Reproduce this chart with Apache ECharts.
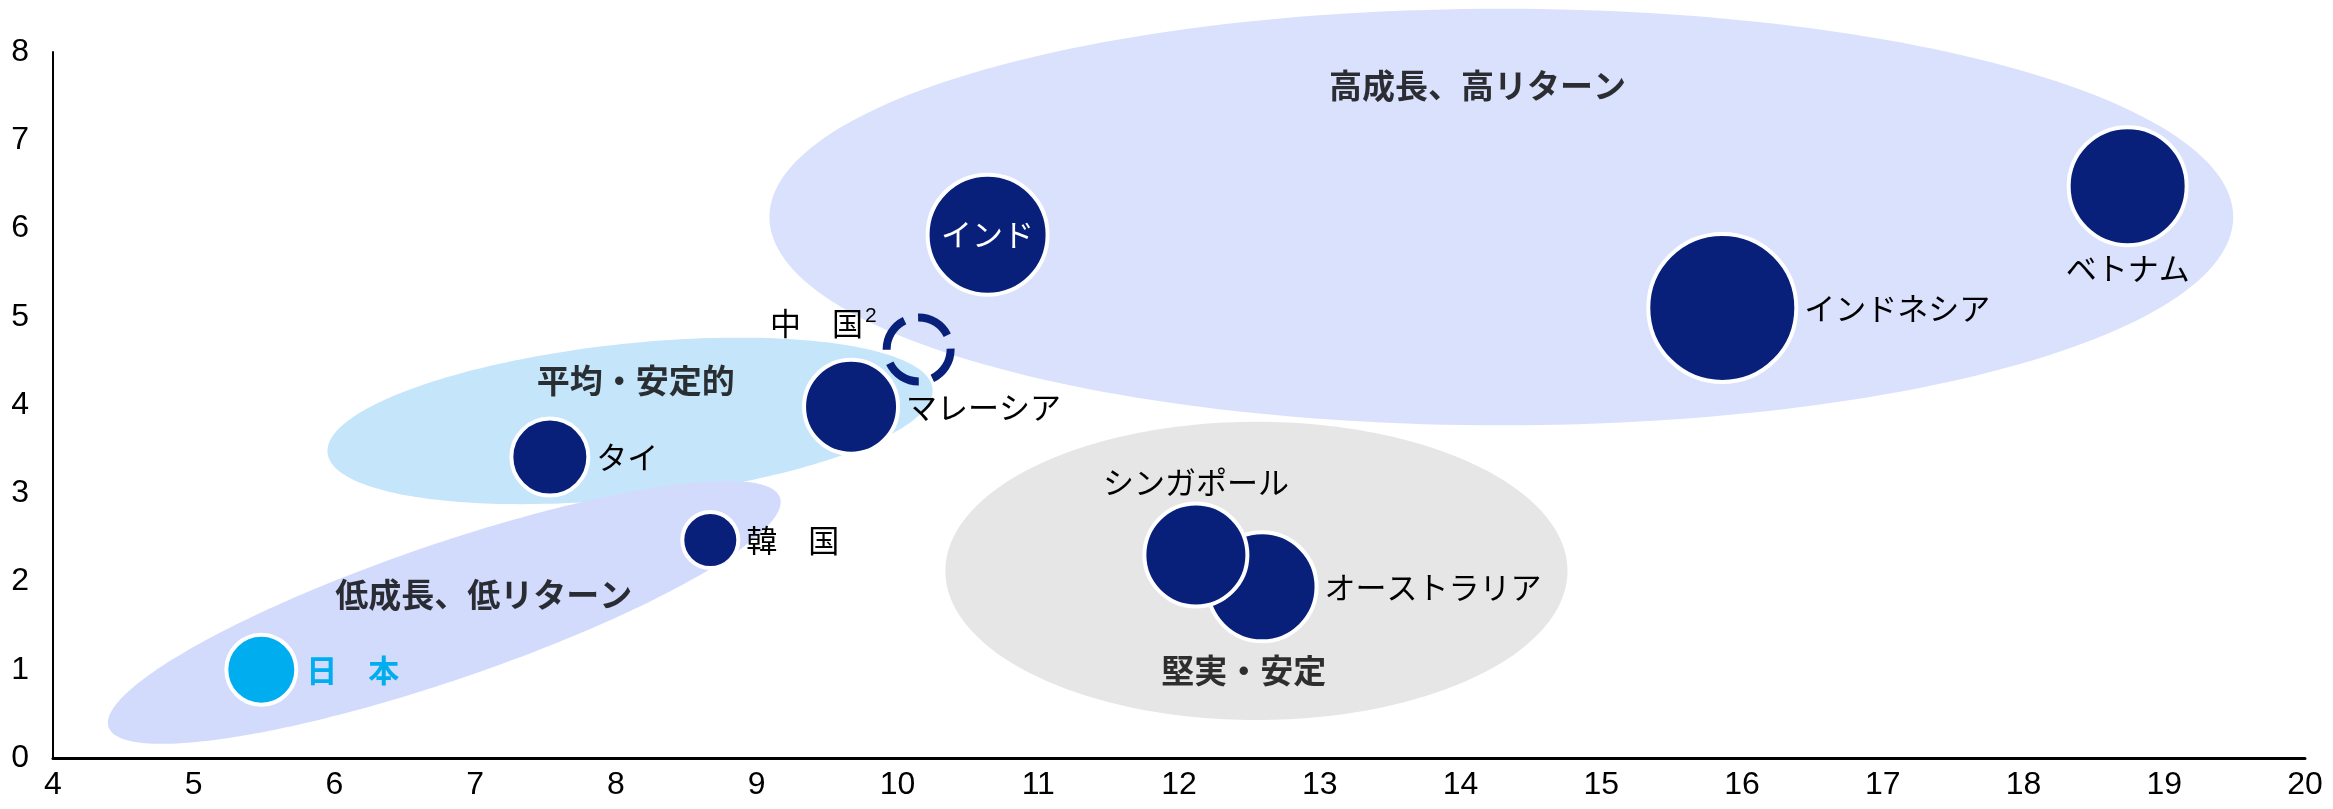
<!DOCTYPE html>
<html>
<head>
<meta charset="utf-8">
<script src="https://cdn.jsdelivr.net/npm/echarts@6/dist/echarts.min.js"></script>
<style>
  html, body { margin: 0; padding: 0; background: #ffffff; }
  #chart { width: 2333px; height: 809px; }
</style>
</head>
<body>
<div id="chart"></div>
<script>
// Country bubbles: growth (x), return (y), bubble diameter
const countryLabels = ['日　本', '韓　国', 'タイ', 'マレーシア', '中　国', 'インド', 'インドネシア', 'ベトナム', 'オーストラリア', 'シンガポール'];
const growth  = [5.48, 8.67, 7.53, 9.67, 10.15, 10.64, 15.86, 18.74, 12.59, 12.12];
const returns = [1.00, 2.47, 3.41, 3.98, 4.63, 5.93, 5.10, 6.48, 1.94, 2.30];
const bubbleSize = [70, 56, 77, 94, 64, 120, 148, 118, 109, 103];

// Group regions (ellipses in data units): centre, horizontal semi-diameter,
// vertical rise at the horizontal extreme, vertical conjugate semi-diameter
const regionNames   = ['高成長、高リターン', '平均・安定的', '低成長、低リターン', '堅実・安定'];
const regionCenterX = [14.29, 8.10, 6.78, 12.55];
const regionCenterY = [6.13, 3.82, 1.65, 2.12];
const regionSpanX   = [5.20, 2.15, 2.39, 2.21];
const regionTiltY   = [0.00, 0.34, 1.25, 0.00];
const regionSpanY   = [2.36, 0.88, 0.81, 1.69];
const regionLabelX  = [14.12, 8.14, 7.06, 12.46];
const regionLabelY  = [7.62, 4.28, 1.85, 0.99];

const xTicks = [4, 20, 1];
const yTicks = [0, 8, 1];

const regionColors = ['#dae1fc', '#c5e5fa', '#d3dbfc', '#e6e6e6'];
const NAVY = '#08207a';
const JAPAN = '#00aeef';
const FONT_JP = '"Noto Sans CJK JP", "Noto Sans", sans-serif';
const FONT_NUM = '"Liberation Sans", Arial, sans-serif';

const chart = echarts.init(document.getElementById('chart'), null, { renderer: 'canvas' });

const regionData = regionCenterX.map((x, i) => [x, regionCenterY[i], regionSpanX[i], regionTiltY[i], regionSpanY[i]]);

const labelBase = { show: true, color: '#000', fontSize: 31, fontFamily: FONT_JP, distance: 6 };

const bubbleData = countryLabels.map((name, i) => {
  const item = {
    name: name,
    value: [growth[i], returns[i]],
    itemStyle: { color: NAVY, borderColor: '#ffffff', borderWidth: 4, opacity: 1 },
    label: Object.assign({}, labelBase, { position: 'right', formatter: name })
  };
  if (name === '日　本') {
    item.itemStyle.color = JAPAN;
    item.label.color = JAPAN;
    item.label.fontWeight = 'bold';
    item.label.distance = 8;
  } else if (name === '中　国') {
    item.itemStyle = { color: 'rgba(0,0,0,0)', borderColor: NAVY, borderWidth: 8, borderType: [36, 14], opacity: 1 };
    item.label.position = 'left';
    item.label.offset = [0, -26];
    item.label.formatter = '中　国{sup|2}';
    item.label.rich = { sup: { fontSize: 21, fontFamily: FONT_NUM, verticalAlign: 'top', padding: [0, 0, 14, 2], color: '#000' } };
  } else if (name === 'インド') {
    item.label.position = 'inside';
    item.label.color = '#ffffff';
  } else if (name === 'ベトナム') {
    item.label.position = 'bottom';
    item.label.distance = 6;
  } else if (name === 'シンガポール') {
    item.label.position = 'top';
    item.label.distance = 4;
  }
  return item;
});

const option = {
  backgroundColor: '#ffffff',
  animation: false,
  grid: { left: 53, right: 28, top: 52, bottom: 51, containLabel: false },
  xAxis: {
    type: 'value', min: xTicks[0], max: xTicks[1], interval: xTicks[2],
    splitLine: { show: false },
    axisTick: { show: false },
    axisLine: { show: true, onZero: false, lineStyle: { color: '#000', width: 3 } },
    axisLabel: { color: '#000', fontSize: 32, fontFamily: FONT_NUM, margin: 11 }
  },
  yAxis: {
    type: 'value', min: yTicks[0], max: yTicks[1], interval: yTicks[2],
    splitLine: { show: false },
    axisTick: { show: false },
    axisLine: { show: true, onZero: false, lineStyle: { color: '#000', width: 2 } },
    axisLabel: { color: '#000', fontSize: 32, fontFamily: FONT_NUM, margin: 24 }
  },
  series: [
    {
      type: 'custom',
      z: 1,
      silent: true,
      clip: false,
      data: regionData,
      encode: { x: 0, y: 1 },
      renderItem: function (params, api) {
        const cx = api.value(0), cy = api.value(1);
        const ux = api.value(2), uy = api.value(3), vy = api.value(4);
        const pts = [];
        const n = 240;
        for (let k = 0; k < n; k++) {
          const t = (k / n) * Math.PI * 2;
          pts.push(api.coord([cx + ux * Math.cos(t), cy + uy * Math.cos(t) + vy * Math.sin(t)]));
        }
        return { type: 'polygon', shape: { points: pts }, style: { fill: regionColors[params.dataIndex] } };
      }
    },
    {
      type: 'scatter',
      z: 3,
      silent: true,
      symbol: 'circle',
      symbolSize: function (val, params) { return bubbleSize[params.dataIndex]; },
      itemStyle: { opacity: 1 },
      data: bubbleData
    },
    {
      type: 'scatter',
      z: 4,
      silent: true,
      symbolSize: 0,
      data: regionNames.map((name, i) => ({ name: name, value: [regionLabelX[i], regionLabelY[i]] })),
      label: {
        show: true, position: 'inside', formatter: '{b}',
        color: '#000', fontSize: 33, fontWeight: 'bold', fontFamily: FONT_JP
      }
    }
  ]
};

chart.setOption(option);
</script>
</body>
</html>
